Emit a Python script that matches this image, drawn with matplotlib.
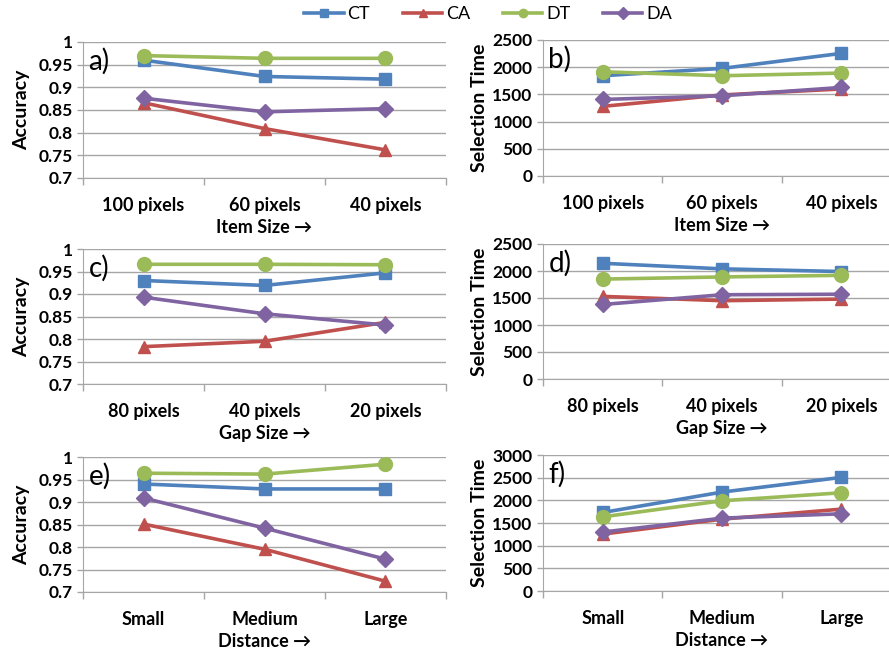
import matplotlib.pyplot as plt
import matplotlib.lines as mlines

# category labels for each row
size_cats = ['100 pixels', '60 pixels', '40 pixels']
gap_cats = ['80 pixels', '40 pixels', '20 pixels']
dist_cats = ['Small', 'Medium', 'Large']

series = ['CT', 'CA', 'DT', 'DA']
colors = {'CT': '#4F81BD', 'CA': '#C0504D', 'DT': '#9BBB59', 'DA': '#8064A2'}
markers = {'CT': 's', 'CA': '^', 'DT': 'o', 'DA': 'D'}
msizes = {'CT': 8, 'CA': 9, 'DT': 10, 'DA': 8}

# a) accuracy vs item size
acc_size = {'CT': [0.960, 0.924, 0.918],
            'CA': [0.866, 0.809, 0.762],
            'DT': [0.970, 0.964, 0.964],
            'DA': [0.876, 0.846, 0.853]}
# b) selection time vs item size
time_size = {'CT': [1843, 1978, 2254],
             'CA': [1280, 1490, 1600],
             'DT': [1916, 1843, 1892],
             'DA': [1407, 1474, 1628]}
# c) accuracy vs gap size
acc_gap = {'CT': [0.930, 0.919, 0.947],
           'CA': [0.783, 0.795, 0.837],
           'DT': [0.966, 0.966, 0.965],
           'DA': [0.893, 0.856, 0.831]}
# d) selection time vs gap size
time_gap = {'CT': [2143, 2040, 1990],
            'CA': [1530, 1450, 1480],
            'DT': [1850, 1890, 1920],
            'DA': [1380, 1560, 1570]}
# e) accuracy vs distance
acc_dist = {'CT': [0.940, 0.929, 0.929],
            'CA': [0.851, 0.795, 0.724],
            'DT': [0.964, 0.962, 0.984],
            'DA': [0.909, 0.842, 0.773]}
# f) selection time vs distance
time_dist = {'CT': [1732, 2182, 2506],
             'CA': [1255, 1585, 1806],
             'DT': [1636, 1990, 2167],
             'DA': [1300, 1607, 1703]}

W, H = 889, 649
fig = plt.figure(figsize=(W / 100, H / 100), dpi=100)
fam = ['Lato', 'DejaVu Sans']
plt.rcParams['font.family'] = fam


def box(l, r, t, b):
    return [l / W, 1 - b / H, (r - l) / W, (b - t) / H]


panels = [
    (box(83, 446, 42, 178), acc_size, size_cats, 'Item Size \u2192', 'Accuracy', 'a)', 'acc'),
    (box(543, 901, 40, 176), time_size, size_cats, 'Item Size \u2192', 'Selection Time', 'b)', 't2500'),
    (box(83, 446, 249, 384), acc_gap, gap_cats, 'Gap Size \u2192', 'Accuracy', 'c)', 'acc'),
    (box(543, 901, 244, 379), time_gap, gap_cats, 'Gap Size \u2192', 'Selection Time', 'd)', 't2500'),
    (box(83, 446, 457, 592), acc_dist, dist_cats, 'Distance \u2192', 'Accuracy', 'e)', 'acc'),
    (box(543, 901, 455, 591), time_dist, dist_cats, 'Distance \u2192', 'Selection Time', 'f)', 't3000'),
]

for rect, data, cats, xlab, ylab, tag, kind in panels:
    ax = fig.add_axes(rect)
    x = range(len(cats))
    for s in series:
        ax.plot(x, data[s], color=colors[s], marker=markers[s], ms=msizes[s],
                lw=2.6, zorder=3)
    ax.set_xlim(-0.5, 2.5)
    if kind == 'acc':
        ax.set_ylim(0.7, 1.0)
        yt = [0.7, 0.75, 0.8, 0.85, 0.9, 0.95, 1.0]
        ax.set_yticks(yt)
        ax.set_yticklabels(['0.7', '0.75', '0.8', '0.85', '0.9', '0.95', '1'])
    elif kind == 't2500':
        ax.set_ylim(0, 2500)
        ax.set_yticks(range(0, 2501, 500))
    else:
        ax.set_ylim(0, 3000)
        ax.set_yticks(range(0, 3001, 500))
    ax.yaxis.grid(True, color='#A6A6A6', lw=1.0)
    ax.set_axisbelow(True)
    ax.set_xticks([-0.5, 0.5, 1.5, 2.5])
    ax.set_xticklabels([])
    ax.set_xticks(list(x), minor=True)
    ax.set_xticklabels(cats, minor=True, fontsize=13, fontweight='bold')
    ax.tick_params(axis='x', which='major', length=5, color='#A6A6A6', width=1)
    ax.tick_params(axis='x', which='minor', length=0, pad=14)
    ax.tick_params(axis='y', length=4, color='#A6A6A6', width=1, labelsize=12.5)
    for lbl in ax.get_yticklabels():
        lbl.set_fontweight('bold')
    for sp in ['top', 'right']:
        ax.spines[sp].set_visible(False)
    for sp in ['left', 'bottom']:
        ax.spines[sp].set_color('#A6A6A6')
    ax.set_xlabel(xlab, fontsize=13, fontweight='bold', labelpad=3, family=fam)
    ax.set_ylabel(ylab, fontsize=14, fontweight='bold',
                  labelpad=6 if kind == 'acc' else 3)
    ax.text(0.015, 0.96, tag, transform=ax.transAxes, fontsize=20,
            va='top', ha='left')

handles = [mlines.Line2D([], [], color=colors[s], marker=markers[s], ms=6,
                         lw=2.6, label=s) for s in series]
fig.legend(handles=handles, loc='center', bbox_to_anchor=(0.549, 1 - 14 / H),
           ncol=4, frameon=False, fontsize=13, handlelength=2.2,
           columnspacing=1.8, handletextpad=0.2)

fig.savefig('out.png', dpi=100)
